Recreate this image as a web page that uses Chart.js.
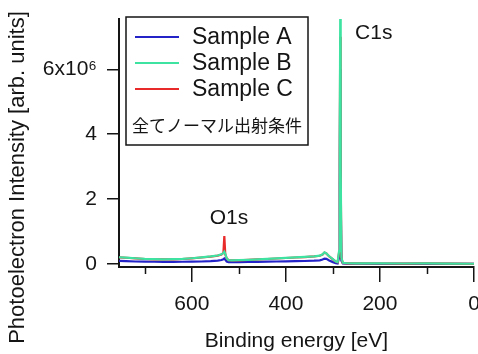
<!DOCTYPE html>
<html>
<head>
<meta charset="utf-8">
<script src="https://cdn.jsdelivr.net/npm/chart.js@4.4.0/dist/chart.umd.min.js"></script>
<style>
html, body { margin: 0; padding: 0; background: #ffffff; }
#c { display: block; }
</style>
</head>
<body>
<canvas id="c" width="478" height="354"></canvas>
<script>
// ---- Data (binding energy in eV, intensity in arb. units) ----
const energies = [755, 740, 720, 700, 680, 660, 640, 620, 600, 580, 560, 545, 537, 533, 531, 529, 526, 522, 515, 500,
  480, 460, 440, 420, 400, 380, 360, 340, 328, 322, 318, 314, 308, 300, 294, 290, 287, 285.5, 284.5, 283.5,
  282, 279, 270, 250, 200, 150, 100, 50, 0];

const sampleA = [100000, 90000, 80000, 75000, 72000, 70000, 70000, 72000, 75000, 80000, 90000, 105000, 125000, 150000, 170000, 140000, 80000, 60000, 60000, 62000,
  65000, 70000, 75000, 80000, 85000, 90000, 95000, 105000, 115000, 140000, 170000, 160000, 110000, 60000, 30000, 20000, 200000, 2500000, 6000000, 2000000,
  100000, 20000, 12000, 10000, 9000, 8000, 9000, 7000, 5000];

const sampleB = [210000, 200000, 180000, 160000, 150000, 145000, 150000, 160000, 180000, 205000, 235000, 265000, 300000, 340000, 380000, 320000, 180000, 120000, 115000, 120000,
  130000, 145000, 160000, 175000, 190000, 205000, 220000, 240000, 260000, 300000, 360000, 330000, 240000, 150000, 80000, 60000, 400000, 4000000, 7600000, 3000000,
  200000, 40000, 25000, 22000, 20000, 18000, 22000, 15000, 10000];

const sampleC = [205000, 195000, 176000, 157000, 147000, 142000, 147000, 157000, 177000, 202000, 231000, 261000, 296000, 340000, 860000, 300000, 176000, 117000, 112000, 117000,
  127000, 142000, 157000, 172000, 187000, 202000, 217000, 237000, 257000, 296000, 355000, 326000, 236000, 147000, 78000, 58000, 350000, 3500000, 7000000, 2600000,
  180000, 36000, 23000, 20000, 18000, 16000, 20000, 13000, 9000];

const seriesNames = ['Sample A', 'Sample B', 'Sample C'];
const seriesColors = ['#2323c8', '#3ee3a2', '#e82a2a'];
const legendNote = '全てノーマル出射条件';

const xTickValues = [0, 100, 200, 300, 400, 500, 600, 700];
const xLabelledTicks = [0, 200, 400, 600];
const yTickValues = [0, 2000000, 4000000, 6000000];
const yTickLabels = ['0', '2', '4', '6x10⁶'];

const peakNames = ['C1s', 'O1s'];
const peakLabelEnergy = [253, 521];
const peakLabelLevel = [7100000, 1420000];
const peakLabelAlign = ['left', 'center'];

const xTitle = 'Binding energy [eV]';
const yTitle = 'Photoelectron Intensity [arb. units]';

// ---- build datasets ----
function pts(vals) { return energies.map((e, i) => ({ x: e, y: vals[i] })); }
const allSeries = [sampleA, sampleB, sampleC];
const drawOrder = [2, 0, 1]; // green on top, red below it, blue lowest
const datasets = allSeries.map((vals, i) => ({
  label: seriesNames[i],
  data: pts(vals),
  borderColor: seriesColors[i],
  backgroundColor: seriesColors[i],
  borderWidth: 2.2,
  pointRadius: 0,
  tension: 0,
  order: drawOrder[i]
}));

const LATIN = "'Liberation Sans', Arial, sans-serif";
const CJK = "'Noto Sans CJK JP', 'Noto Sans CJK SC', sans-serif";
const INK = '#151515';

const decorPlugin = {
  id: 'decor',
  afterDraw(chart) {
    const ctx = chart.ctx;
    const xs = chart.scales.x, ys = chart.scales.y;
    const area = chart.chartArea;
    ctx.save();
    // minor x ticks
    ctx.strokeStyle = INK;
    ctx.lineWidth = 1.5;
    xTickValues.filter(v => !xLabelledTicks.includes(v)).forEach(v => {
      const px = Math.round(xs.getPixelForValue(v)) + 0.5;
      ctx.beginPath();
      ctx.moveTo(px, area.bottom);
      ctx.lineTo(px, area.bottom + 7);
      ctx.stroke();
    });
    // y title
    ctx.fillStyle = INK;
    ctx.font = '22px ' + LATIN;
    ctx.textAlign = 'center';
    ctx.textBaseline = 'middle';
    ctx.translate(18, 177.5);
    ctx.rotate(-Math.PI / 2);
    ctx.fillText(yTitle, 0, 0);
    ctx.restore();

    // peak labels
    ctx.save();
    ctx.fillStyle = INK;
    ctx.font = '21px ' + LATIN;
    ctx.textBaseline = 'middle';
    peakNames.forEach((n, i) => {
      ctx.textAlign = peakLabelAlign[i];
      ctx.fillText(n, xs.getPixelForValue(peakLabelEnergy[i]), ys.getPixelForValue(peakLabelLevel[i]));
    });
    ctx.restore();

    // legend box
    ctx.save();
    const bx = 126, by = 17, bw = 182, bh = 128;
    ctx.fillStyle = '#ffffff';
    ctx.fillRect(bx, by, bw, bh);
    ctx.strokeStyle = INK;
    ctx.lineWidth = 1.5;
    ctx.strokeRect(bx, by, bw, bh);
    chart.data.datasets.forEach((ds, i) => {
      const ry = 37 + i * 26;
      ctx.strokeStyle = ds.borderColor;
      ctx.lineWidth = 2;
      ctx.beginPath();
      ctx.moveTo(135, ry);
      ctx.lineTo(179, ry);
      ctx.stroke();
      ctx.fillStyle = INK;
      ctx.font = '23px ' + LATIN;
      ctx.textAlign = 'left';
      ctx.textBaseline = 'middle';
      ctx.fillText(ds.label, 192, ry + 1);
    });
    ctx.fillStyle = INK;
    ctx.font = '17px ' + CJK;
    ctx.textAlign = 'left';
    ctx.textBaseline = 'middle';
    ctx.fillText(legendNote, 132, 126);
    ctx.restore();
  }
};

new Chart(document.getElementById('c'), {
  type: 'line',
  data: { datasets },
  plugins: [decorPlugin],
  options: {
    responsive: false,
    animation: false,
    events: [],
    layout: { padding: { top: 19, right: 4, left: 0, bottom: 0 } },
    plugins: { legend: { display: false }, tooltip: { enabled: false } },
    scales: {
      x: {
        type: 'linear',
        reverse: true,
        min: 0,
        max: 755,
        afterBuildTicks: s => { s.ticks = xTickValues.map(v => ({ value: v })); },
        afterFit: s => { s.height = 87; s.paddingLeft = 0; s.paddingRight = 0; },
        border: { display: true, color: INK, width: 2 },
        grid: {
          drawOnChartArea: false,
          drawTicks: true,
          tickLength: 15,
          lineWidth: 1.5,
          color: c => (c.tick && xLabelledTicks.includes(c.tick.value)) ? INK : 'rgba(0,0,0,0)'
        },
        ticks: {
          autoSkip: false,
          maxRotation: 0,
          padding: 10,
          color: INK,
          font: { family: LATIN, size: 21 },
          callback: v => xLabelledTicks.includes(v) ? String(v) : ''
        },
        title: {
          display: true,
          text: xTitle,
          color: INK,
          font: { family: LATIN, size: 21 },
          padding: { top: 0, bottom: 0 }
        }
      },
      y: {
        type: 'linear',
        min: -90000,
        max: 7550000,
        afterBuildTicks: s => { s.ticks = yTickValues.map(v => ({ value: v })); },
        afterFit: s => { s.width = 119; s.paddingTop = 0; s.paddingBottom = 0; },
        border: { display: true, color: INK, width: 2 },
        grid: { drawOnChartArea: false, drawTicks: true, tickLength: 12, lineWidth: 1.5, color: INK },
        ticks: {
          padding: 10,
          color: INK,
          font: { family: LATIN, size: 21 },
          callback: (v) => { const k = yTickValues.indexOf(v); return k >= 0 ? yTickLabels[k] : ''; }
        },
        title: { display: false }
      }
    }
  }
});
</script>
</body>
</html>
